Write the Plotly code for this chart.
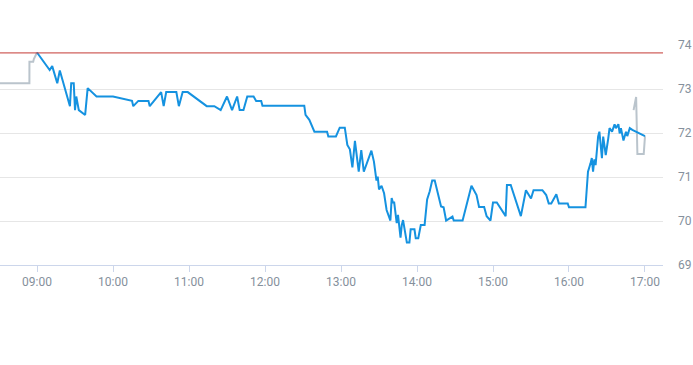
import plotly.graph_objects as go

DAY = "2024-03-04 "

pre_times = ["08:30", "08:54:00", "08:54:01", "08:57:00", "08:57:30", "09:00"]
pre_values = [73.13, 73.13, 73.62, 73.62, 73.68, 73.83]

main_times = [
    "09:00", "09:10", "09:12", "09:16", "09:18", "09:26", "09:27", "09:29", "09:30", "09:31",
    "09:33", "09:38", "09:40", "09:47", "10:00", "10:15", "10:16", "10:20", "10:28", "10:29",
    "10:38", "10:40", "10:42", "10:50", "10:52", "10:55", "10:59", "11:14", "11:20", "11:25",
    "11:30", "11:34", "11:38", "11:40", "11:43", "11:46", "11:51", "11:53", "11:57", "11:58",
    "12:31", "12:32", "12:35", "12:39", "12:49", "12:50", "12:56", "12:59", "13:03", "13:05",
    "13:07", "13:09", "13:11", "13:14", "13:16", "13:18", "13:24", "13:26", "13:28", "13:29",
    "13:30", "13:32", "13:34", "13:36", "13:39", "13:40", "13:41", "13:42", "13:44", "13:45",
    "13:47", "13:48", "13:49", "13:51", "13:52", "13:54", "13:55", "13:58", "13:59", "14:01",
    "14:03", "14:06", "14:08", "14:10", "14:12", "14:14", "14:19", "14:21", "14:23", "14:28",
    "14:29", "14:36", "14:43", "14:47", "14:49", "14:53", "14:55", "14:58", "15:00", "15:03",
    "15:10", "15:11", "15:14", "15:22", "15:26", "15:30", "15:32", "15:39", "15:42", "15:44",
    "15:46", "15:50", "15:52", "15:59", "16:00", "16:13", "16:14", "16:15", "16:17", "16:18",
    "16:19", "16:20", "16:21", "16:22", "16:23", "16:24", "16:26", "16:27", "16:29", "16:31",
    "16:32", "16:34", "16:36", "16:37", "16:39", "16:40", "16:41", "16:43", "16:45", "16:46",
    "16:48", "16:50", "17:00",
]
main_values = [
    73.83, 73.43, 73.52, 73.13, 73.42, 72.61, 73.13, 73.13, 72.52, 72.83,
    72.52, 72.41, 73.02, 72.83, 72.83, 72.73, 72.61, 72.73, 72.73, 72.61,
    72.93, 72.61, 72.93, 72.93, 72.61, 72.93, 72.93, 72.61, 72.61, 72.52,
    72.83, 72.52, 72.83, 72.52, 72.52, 72.83, 72.83, 72.73, 72.73, 72.62,
    72.62, 72.41, 72.30, 72.03, 72.03, 71.92, 71.92, 72.12, 72.12, 71.73,
    71.63, 71.22, 71.82, 71.12, 71.61, 71.12, 71.60, 71.35, 70.92, 71.01,
    70.72, 70.80, 70.63, 70.25, 70.01, 70.52, 70.42, 70.42, 69.95, 70.14,
    69.62, 69.91, 70.02, 69.61, 69.51, 69.51, 69.81, 69.81, 69.61, 69.61,
    69.91, 69.91, 70.49, 70.67, 70.92, 70.92, 70.33, 70.31, 70.01, 70.10,
    70.01, 70.01, 70.80, 70.59, 70.32, 70.32, 70.11, 70.01, 70.42, 70.42,
    70.11, 70.82, 70.82, 70.11, 70.70, 70.51, 70.70, 70.70, 70.59, 70.40,
    70.40, 70.61, 70.40, 70.40, 70.31, 70.31, 70.74, 71.12, 71.31, 71.43,
    71.12, 71.40, 71.27, 71.63, 71.92, 72.03, 71.43, 71.92, 71.50, 71.88,
    72.11, 72.03, 72.20, 72.11, 72.20, 71.99, 72.11, 71.83, 72.03, 71.93,
    72.11, 72.07, 71.93,
]

post_times = ["16:51", "16:53", "16:54", "16:59", "17:00"]
post_values = [72.52, 72.82, 71.52, 71.52, 71.93]

prev_close = 73.82

x_tick_values = ["09:00", "10:00", "11:00", "12:00", "13:00", "14:00", "15:00", "16:00", "17:00"]
y_tick_values = [69, 70, 71, 72, 73, 74]

GRAY = "#bac4cc"
BLUE = "#1592e0"
LABEL = "#85909c"

fig = go.Figure()
fig.add_trace(go.Scatter(x=[DAY + t for t in pre_times], y=pre_values, mode="lines",
                         line=dict(color=GRAY, width=2), hoverinfo="skip"))
fig.add_trace(go.Scatter(x=[DAY + t for t in post_times], y=post_values, mode="lines",
                         line=dict(color=GRAY, width=2), hoverinfo="skip"))
fig.add_trace(go.Scatter(x=[DAY + t for t in main_times], y=main_values, mode="lines",
                         line=dict(color=BLUE, width=2)))

fig.add_shape(type="line", xref="paper", x0=0, x1=1, yref="y", y0=prev_close, y1=prev_close,
              line=dict(color="#c43a35", width=1))

fig.update_layout(
    width=693, height=365,
    margin=dict(l=0, r=30, t=45, b=100, autoexpand=False),
    paper_bgcolor="white", plot_bgcolor="white",
    showlegend=False,
    font=dict(family="Roboto, Arial, sans-serif", size=12, color=LABEL),
)
fig.update_xaxes(
    range=[DAY + "08:30:47", DAY + "17:14:13"],
    tickvals=[DAY + t for t in x_tick_values], ticktext=x_tick_values,
    showgrid=False, showline=True, linecolor="#ccd6eb", linewidth=1,
    ticks="outside", ticklen=6, tickcolor="#ccd6eb",
    tickfont=dict(size=12, color=LABEL), zeroline=False, automargin=False,
)
fig.update_yaxes(
    range=[69, 74], side="right", tickvals=y_tick_values,
    showgrid=True, gridcolor="#e6e6e6", gridwidth=1, zeroline=False,
    showline=False, ticks="", ticklabelstandoff=14, automargin=False,
    tickfont=dict(size=12, color=LABEL),
)

fig.write_html("out.html", config={"displayModeBar": False},
               post_script="document.body.style.margin='0';")
